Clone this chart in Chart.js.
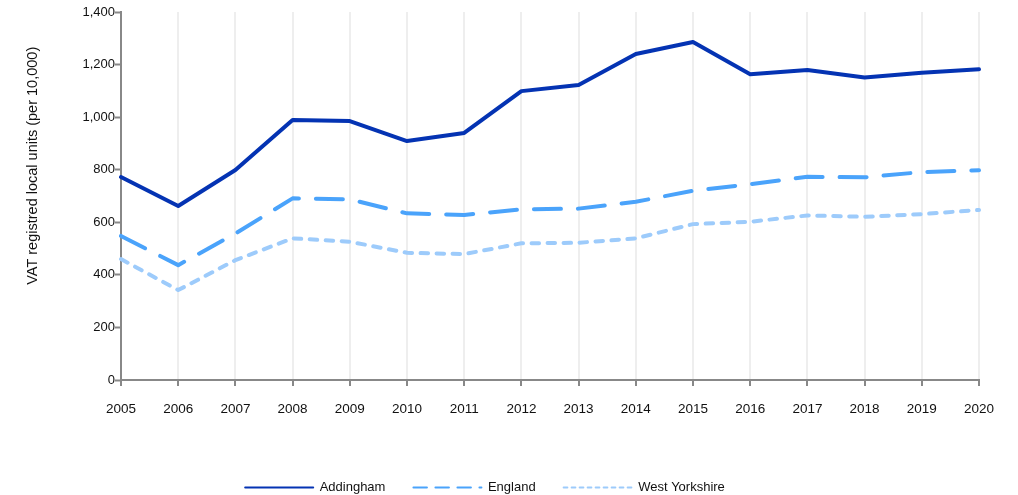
<!DOCTYPE html>
<html>
<head>
<meta charset="utf-8">
<script src="https://cdn.jsdelivr.net/npm/chart.js@4/dist/chart.umd.min.js"></script>
<style>
  html, body { margin: 0; padding: 0; background: #fff; overflow: hidden; }
  #frame { position: relative; width: 1018px; height: 495px; overflow: hidden; }
  #chart { position: absolute; left: -24px; top: 0; }
</style>
</head>
<body>
<div id="frame"><canvas id="chart" width="1042" height="504"></canvas></div>
<script>
// Years on the x axis
const years = ['2005','2006','2007','2008','2009','2010','2011','2012','2013','2014','2015','2016','2017','2018','2019','2020'];

// VAT registered local units per 10,000 population
const addingham     = [772, 662, 799, 989, 985, 909, 940, 1099, 1122, 1240, 1286, 1163, 1179, 1151, 1169, 1182];
const england       = [548, 437, 557, 691, 687, 634, 628, 649, 652, 678, 720, 745, 773, 771, 791, 798];
const westYorkshire = [460, 342, 456, 539, 526, 484, 479, 520, 522, 539, 593, 602, 626, 621, 631, 647];

const seriesNames = ['Addingham', 'England', 'West Yorkshire'];
const yAxisTitle = 'VAT registred local units (per 10,000)';

const FONT = '"Liberation Sans", Arial, Helvetica, sans-serif';
const AXIS = '#888888';

Chart.defaults.font.family = FONT;
Chart.defaults.font.size = 13;
Chart.defaults.color = '#111';

new Chart(document.getElementById('chart'), {
  type: 'line',
  data: {
    labels: years,
    datasets: [
      {
        label: seriesNames[0], data: addingham,
        borderColor: '#0433b3', backgroundColor: '#0433b3',
        borderWidth: 4, borderCapStyle: 'round', borderJoinStyle: 'round'
      },
      {
        label: seriesNames[1], data: england,
        borderColor: '#4aa3fb', backgroundColor: '#4aa3fb',
        borderWidth: 4, borderDash: [27, 17], borderCapStyle: 'round', borderJoinStyle: 'round'
      },
      {
        label: seriesNames[2], data: westYorkshire,
        borderColor: '#9dcbfb', backgroundColor: '#9dcbfb',
        borderWidth: 4, borderDash: [7.5, 8.5], borderCapStyle: 'round', borderJoinStyle: 'round'
      }
    ]
  },
  options: {
    responsive: false,
    animation: false,
    events: [],
    layout: { padding: { top: 12, left: 15, right: 39, bottom: 0 } },
    elements: { point: { radius: 0 }, line: { tension: 0 } },
    plugins: {
      tooltip: { enabled: false },
      legend: {
        position: 'bottom',
        labels: {
          usePointStyle: true,
          pointStyle: 'line',
          pointStyleWidth: 68,
          padding: 28,
          color: '#111',
          font: { size: 13, family: FONT },
          generateLabels(chart) {
            // thinner key lines with a proportionally shorter dash pattern
            return Chart.defaults.plugins.legend.labels.generateLabels(chart).map(item => {
              const ds = chart.data.datasets[item.datasetIndex];
              item.lineWidth = 2;
              item.lineDash = (ds.borderDash || []).map(v => v / 2);
              item.lineCap = 'round';
              return item;
            });
          }
        }
      }
    },
    scales: {
      x: {
        type: 'category',
        offset: false,
        grid: { color: '#eeeeee', lineWidth: 2, tickColor: AXIS, tickLength: 6, tickWidth: 2 },
        border: { color: AXIS, width: 2 },
        ticks: { autoSkip: false, maxRotation: 0, padding: 15, color: '#111', font: { size: 13.5 } },
        afterFit(scale) { scale.height = 73; }
      },
      y: {
        min: 0, max: 1400,
        grid: { drawOnChartArea: false, tickColor: AXIS, tickLength: 6, tickWidth: 2 },
        border: { color: AXIS, width: 2 },
        ticks: { stepSize: 200, padding: 0, color: '#111', font: { size: 13 } },
        title: {
          display: true,
          text: '               ' + yAxisTitle,
          color: '#111',
          font: { size: 14.5, family: FONT },
          padding: { top: 33, bottom: 0 }
        },
        afterFit(scale) { scale.width = 130; }
      }
    }
  }
});
</script>
</body>
</html>
